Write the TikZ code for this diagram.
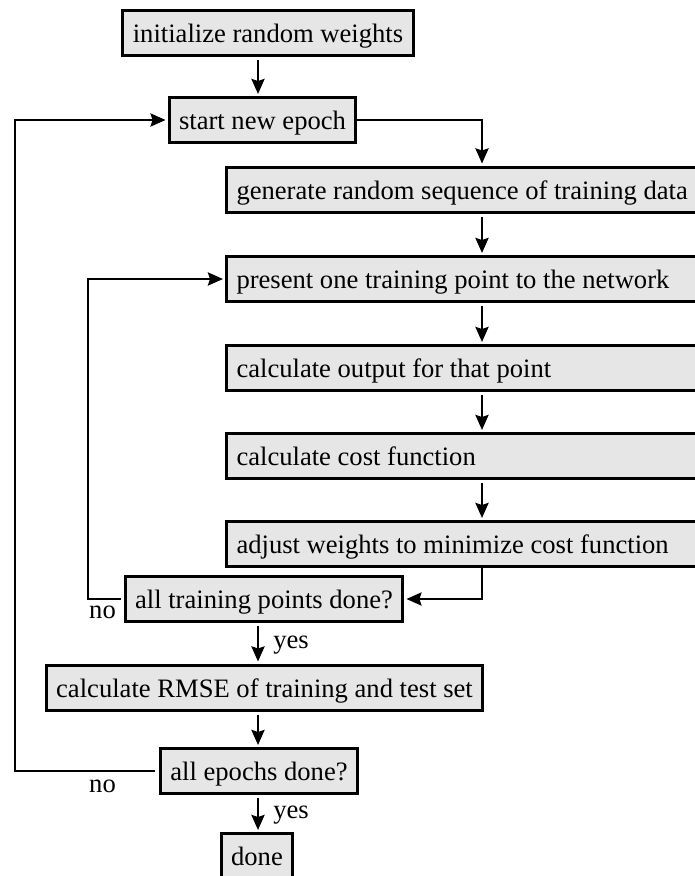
\documentclass[tikz,border=0pt]{standalone}
\usepackage{fontspec}
\setmainfont{Liberation Serif}
\usetikzlibrary{arrows.meta}
\definecolor{boxgray}{RGB}{230,230,230}
\begin{document}
\begin{tikzpicture}[x=1pt,y=-1pt,
  box/.style={draw=black, line width=3pt, fill=boxgray, inner xsep=10pt, inner ysep=0pt,
    minimum height=45pt, text height=21pt, text depth=2pt, font=\fontsize{26.6}{30}\selectfont},
  wide/.style={box, anchor=west, text width=520pt, align=flush left},
  arr/.style={line width=2.6pt, -{Stealth[length=15pt,width=13pt,inset=2pt]}},
  lbl/.style={font=\fontsize{26.6}{30}\selectfont, inner sep=0pt}]
\useasboundingbox (0,0) rectangle (694,876);
% nodes
\node[box] (init) at (268,32.5) {initialize random weights};
\node[box] (epoch) at (262.5,120) {start new epoch};
\node[wide] (gen) at (225,189.5) {generate random sequence of training data};
\node[wide] (pres) at (225,279) {present one training point to the network};
\node[wide] (outp) at (225,368) {calculate output for that point};
\node[wide] (cost) at (225,456) {calculate cost function};
\node[wide] (adj) at (225,544) {adjust weights to minimize cost function};
\node[box] (alltp) at (264,599) {all training points done?};
\node[box] (rmse) at (264.5,687.5) {calculate RMSE of training and test set};
\node[box] (allep) at (259,771) {all epochs done?};
\node[box] (done) at (257,856) {done};
% helper x-positions
\coordinate (cx) at (258,0);
\coordinate (rx) at (482,0);
\coordinate (lx1) at (15,0);
\coordinate (lx2) at (88,0);
\coordinate (nox) at (116,0);
% connectors
\draw[arr, shorten <=3pt, shorten >=2pt] (init.south -| cx) -- (epoch.north -| cx);
\draw[arr, shorten >=2pt] (epoch.east) -| (gen.north -| rx);
\draw[arr, shorten <=3pt, shorten >=2pt] (gen.south -| rx) -- (pres.north -| rx);
\draw[arr, shorten <=3pt, shorten >=2pt] (pres.south -| rx) -- (outp.north -| rx);
\draw[arr, shorten <=3pt, shorten >=2pt] (outp.south -| rx) -- (cost.north -| rx);
\draw[arr, shorten <=3pt, shorten >=2pt] (cost.south -| rx) -- (adj.north -| rx);
\draw[arr, shorten >=2pt] (adj.south -| rx) |- (alltp.east);
\draw[arr, shorten <=3pt, shorten >=2pt] (alltp.west) -- (alltp.west -| lx2) |- (pres.west);
\draw[arr, shorten <=4pt, shorten >=2pt] (allep.west) -- (allep.west -| lx1) |- (epoch.west);
\draw[arr, shorten <=3pt, shorten >=2pt] (alltp.south -| cx) -- node[lbl, anchor=base west, xshift=14pt, yshift=-5pt] {yes} (rmse.north -| cx);
\draw[arr, shorten <=3pt, shorten >=2pt] (rmse.south -| cx) -- (allep.north -| cx);
\draw[arr, shorten <=3pt, shorten >=2pt] (allep.south -| cx) -- node[lbl, anchor=base west, xshift=14pt, yshift=-5pt] {yes} (done.north -| cx);
% labels
\node[lbl, anchor=base east] at ([yshift=-19pt]alltp.west -| nox) {no};
\node[lbl, anchor=base east] at ([yshift=-21pt]allep.west -| nox) {no};
\end{tikzpicture}
\end{document}
